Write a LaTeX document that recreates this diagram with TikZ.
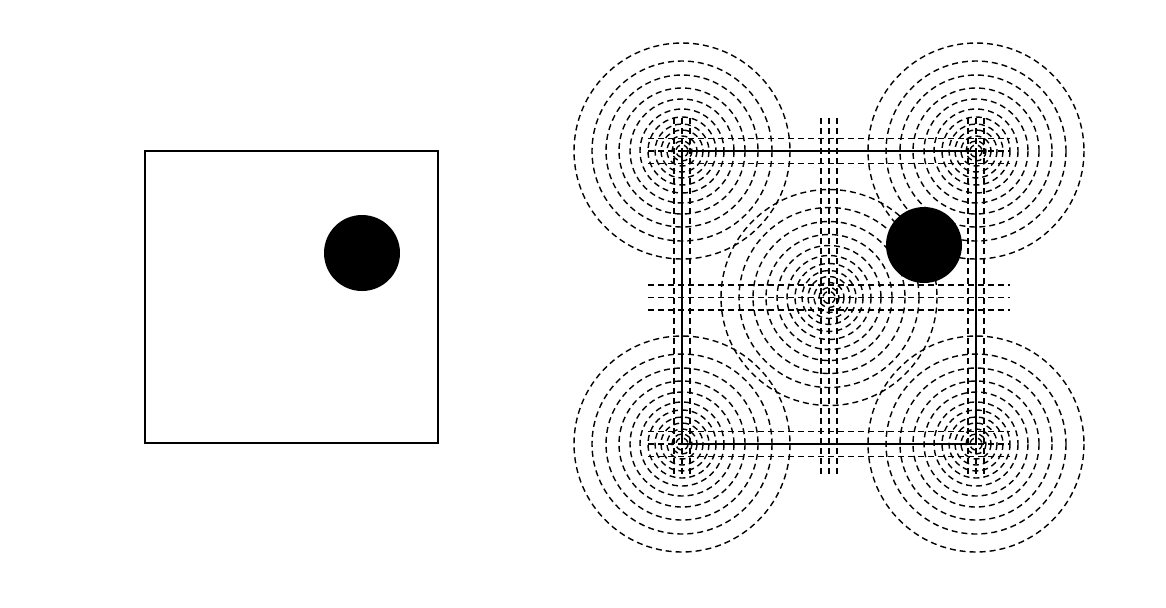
\documentclass[tikz,border=0pt]{standalone}
\usetikzlibrary{positioning}
\tikzset{
  field/.style={dash pattern=on 3pt off 2pt, line width=0.7pt},
  cell/.style={line width=0.85pt},
}
\begin{document}
\begin{tikzpicture}[x=0.5pt,y=-0.5pt]
\useasboundingbox (0,0) rectangle (1166,607);
% single cell
\draw[cell] (145,151) rectangle (438,443);
\fill (362,253) circle (38);
% periodic cell: level sets round the corners and the centre
\foreach \cx/\cy in {682/151,976/151,682/444,976/444,829/297.5} {
  \foreach \r in {108,90,76,63,52,42,34,27,21,15,10,6} {\draw[field] (\cx,\cy) circle (\r);}
}
% grid lines
\foreach \y in {151,297.5,444} {
  \foreach \d in {-12.5,0,12.5} {\draw[field] (648,\y+\d) -- (1010,\y+\d);}
}
\foreach \x in {682,829,976} {
  \foreach \d in {-8,0,8} {\draw[field] (\x+\d,118) -- (\x+\d,474);}
}
\draw[cell] (682,151) rectangle (976,444);
\fill (924,245) circle (38);
\end{tikzpicture}
\end{document}
